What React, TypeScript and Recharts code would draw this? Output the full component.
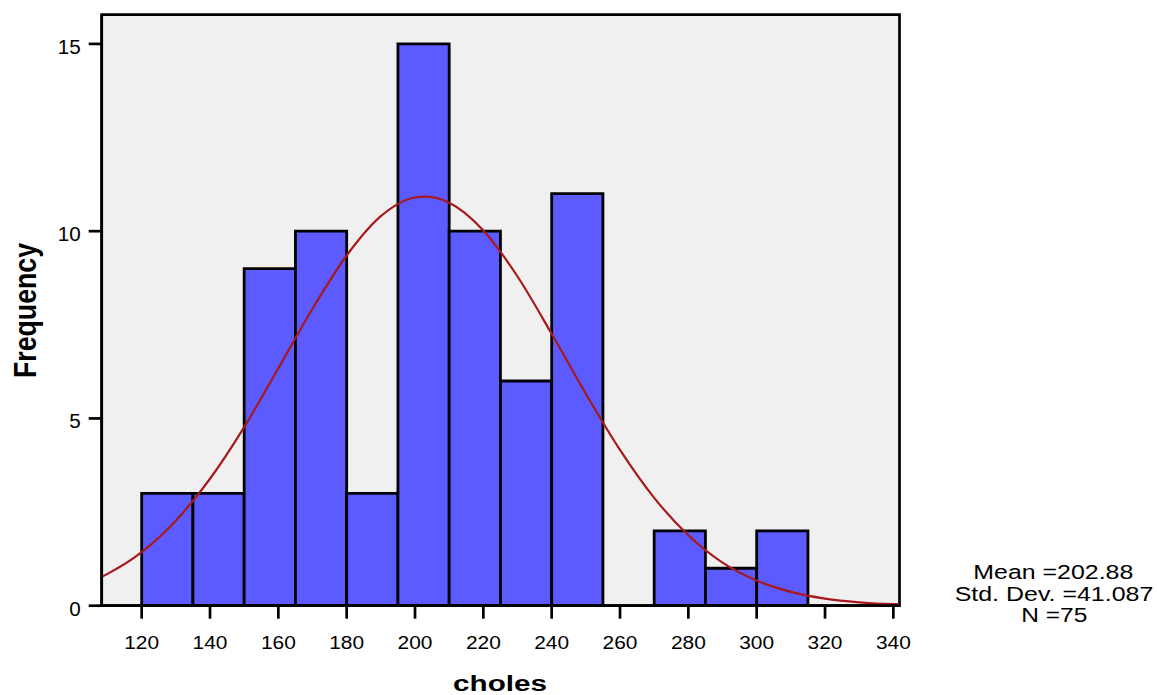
import React from 'react';
import { ComposedChart, Line, XAxis, YAxis, CartesianGrid, ReferenceArea } from 'recharts';

// Histogram bins (lower edges) and frequencies
const BIN_WIDTH = 15;
const BIN_START = [120, 135, 150, 165, 180, 195, 210, 225, 240, 255, 270, 285, 300];
const BIN_COUNT = [3, 3, 9, 10, 3, 15, 10, 6, 11, 0, 2, 1, 2];

// Fitted normal curve (expected frequency per bin)
const CURVE_X = [108.3, 110, 120, 130, 140, 150, 160, 170, 180, 190, 200, 203, 210, 220, 230, 240, 250, 260, 270, 280, 290, 300, 310, 320, 330, 340, 341.8];
const CURVE_Y = [0.77, 0.85, 1.43, 2.27, 3.39, 4.77, 6.34, 7.93, 9.35, 10.4, 10.9, 10.92, 10.76, 10.02, 8.79, 7.26, 5.66, 4.16, 2.88, 1.88, 1.15, 0.67, 0.37, 0.19, 0.09, 0.04, 0.036];

const X_TICKS = [120, 140, 160, 180, 200, 220, 240, 260, 280, 300, 320, 340];
const Y_TICKS = [0, 5, 10, 15];
const X_DOMAIN = [108.3, 341.8];
const Y_DOMAIN = [0, 15.78];

const STATS = ['Mean =202.88', 'Std. Dev. =41.087', 'N =75'];
const X_LABEL = 'choles';
const Y_LABEL = 'Frequency';

const curveData = CURVE_X.map((x, i) => ({ x, y: CURVE_Y[i] }));
const bins = BIN_START.map((s, i) => ({ x1: s, x2: s + BIN_WIDTH, count: BIN_COUNT[i] })).filter((b) => b.count > 0);

const FONT = '"Liberation Sans", Arial, Helvetica, sans-serif';

const XTick = (props: any) => {
  const { x, y, payload } = props;
  return (
    <text transform={`translate(${x},${y + 30.6}) scale(1.1,1)`} textAnchor="middle" fontSize={19} fontFamily={FONT} fill="#000">
      {payload.value}
    </text>
  );
};

const YTick = (props: any) => {
  const { x, y, payload } = props;
  return (
    <text transform={`translate(${x},${y + 10}) scale(1.06,1)`} textAnchor="end" fontSize={19.5} fontFamily={FONT} fill="#000">
      {payload.value}
    </text>
  );
};

export default function App() {
  return (
    <div style={{ position: 'absolute', left: 0, top: 0, width: 1157, height: 695, background: '#fff' }}>
      <ComposedChart
        width={1157}
        height={695}
        data={curveData}
        margin={{ top: 14.7, right: 257.5, bottom: 9.3, left: 41.7 }}
      >
        <CartesianGrid horizontal={false} vertical={false} fill="#f0f0f0" />
        <XAxis
          dataKey="x"
          type="number"
          domain={X_DOMAIN}
          ticks={X_TICKS}
          allowDataOverflow
          height={80}
          tickSize={13}
          tickMargin={0}
          axisLine={{ stroke: '#000', strokeWidth: 2.7 }}
          tickLine={{ stroke: '#000', strokeWidth: 2.7 }}
          tick={XTick}
          interval={0}
        />
        <YAxis
          type="number"
          domain={Y_DOMAIN}
          ticks={Y_TICKS}
          allowDataOverflow
          width={60}
          tickSize={13}
          tickMargin={8}
          axisLine={{ stroke: '#000', strokeWidth: 2.7 }}
          tickLine={{ stroke: '#000', strokeWidth: 2.7 }}
          tick={YTick}
          interval={0}
        />
        {bins.map((b, i) => (
          <ReferenceArea
            key={i}
            x1={b.x1}
            x2={b.x2}
            y1={0}
            y2={b.count}
            fill="#5b5bff"
            fillOpacity={1}
            stroke="#000"
            strokeWidth={2.8}
            ifOverflow="visible"
          />
        ))}
        <ReferenceArea
          x1={X_DOMAIN[0]}
          x2={X_DOMAIN[1]}
          y1={Y_DOMAIN[0]}
          y2={Y_DOMAIN[1]}
          fill="none"
          fillOpacity={0}
          stroke="#000"
          strokeWidth={2.7}
          ifOverflow="visible"
        />
        <Line
          dataKey="y"
          type="monotone"
          stroke="#a8181c"
          strokeWidth={2.2}
          dot={false}
          activeDot={false}
          isAnimationActive={false}
        />
      </ComposedChart>
      <svg width={1157} height={695} style={{ position: 'absolute', left: 0, top: 0, pointerEvents: 'none' }}>
        <text
          transform="translate(36,310.5) scale(1.2,1) rotate(-90)"
          textAnchor="middle"
          fontSize={26.7}
          fontWeight="bold"
          fontFamily={FONT}
          fill="#000"
        >
          {Y_LABEL}
        </text>
        <text x={500} y={690.5} textAnchor="middle" fontSize={22.5} fontWeight="bold" fontFamily={FONT} fill="#000" textLength={94} lengthAdjust="spacingAndGlyphs">
          {X_LABEL}
        </text>
        <text x={1053.3} y={579.3} textAnchor="middle" fontSize={20.5} fontFamily={FONT} fill="#000" textLength={160} lengthAdjust="spacingAndGlyphs">
          {STATS[0]}
        </text>
        <text x={1054} y={600.5} textAnchor="middle" fontSize={20.5} fontFamily={FONT} fill="#000" textLength={198.7} lengthAdjust="spacingAndGlyphs">
          {STATS[1]}
        </text>
        <text x={1054.3} y={621.5} textAnchor="middle" fontSize={20.5} fontFamily={FONT} fill="#000" textLength={66} lengthAdjust="spacingAndGlyphs">
          {STATS[2]}
        </text>
      </svg>
    </div>
  );
}
